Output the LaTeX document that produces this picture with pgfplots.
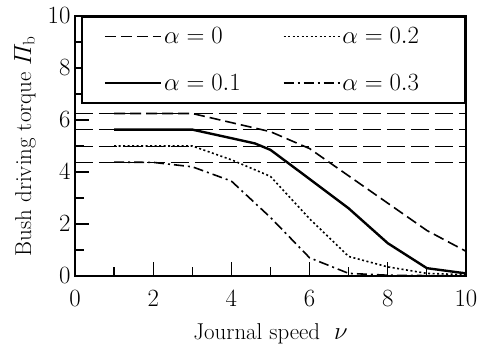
\documentclass[border=0pt]{standalone}
\usepackage{amsmath}
\usepackage{pgfplots}
\pgfplotsset{compat=1.18}
\begin{document}
\begin{tikzpicture}
\begin{axis}[
  scale only axis, width=391bp, height=260bp,
  xmin=0, xmax=10, ymin=0, ymax=10,
  xtick={0,2,...,10}, ytick={0,2,...,10},
  minor xtick={1,3,...,9}, minor ytick={1,3,...,9},
  tick align=inside, tick pos=left,
  major tick length=14bp, minor tick length=9bp,
  axis line style={line width=1.8bp},
  every tick/.style={line width=1.2bp, black},
  font=\fontsize{23}{27}\selectfont,
  xticklabel style={yshift=-11bp},
  yticklabel style={xshift=-1bp},
  xlabel={Journal speed\ \ $\nu$},
  ylabel={Bush driving torque $\varPi_{\mathrm{b}}$},
  xlabel style={font=\fontsize{23}{27}\selectfont, yshift=-10bp},
  ylabel style={font=\fontsize{23}{27}\selectfont, yshift=5bp},
  clip mode=individual,
  legend columns=2,
  legend cell align=left,
  legend style={at={(1,1)}, anchor=north east, draw=black, line width=1.8bp,
    fill=white, inner xsep=22bp, inner ysep=9bp, row sep=25bp,
    font=\fontsize{25}{29}\selectfont,
    /tikz/every even column/.append style={column sep=40bp}},
  legend image code/.code={\draw[#1] (0bp,0bp) -- (56bp,0bp);},
]
% reference lines
\addplot[forget plot, line width=0.7bp, dash pattern=on 18bp off 6bp] coordinates {(0,6.25) (10,6.25)};
\addplot[forget plot, line width=0.7bp, dash pattern=on 18bp off 6bp] coordinates {(0,5.63) (10,5.63)};
\addplot[forget plot, line width=0.7bp, dash pattern=on 18bp off 6bp] coordinates {(0,5.0) (10,5.0)};
\addplot[forget plot, line width=0.7bp, dash pattern=on 18bp off 6bp] coordinates {(0,4.38) (10,4.38)};
% alpha = 0
\addplot[black, line width=1.6bp, dash pattern=on 11bp off 5bp] coordinates {
(1,6.25) (3,6.25) (4,5.9) (5,5.55) (6,4.9) (7,3.85) (8,2.8) (9,1.75) (10,0.95)};
\addlegendentry{$\alpha = 0$}
% alpha = 0.2
\addplot[black, line width=1.6bp, dash pattern=on 2bp off 2.5bp] coordinates {
(1,5.0) (3,5.0) (4,4.47) (5,3.83) (6,2.2) (7,0.75) (8,0.35) (9,0.1) (10,0.05)};
\addlegendentry{$\alpha = 0.2$\hspace*{22bp}}
% alpha = 0.1
\addplot[black, line width=2.4bp] coordinates {
(1,5.63) (3,5.63) (4,5.3) (4.6,5.1) (5,4.85) (6,3.73) (7,2.6) (8,1.26) (9,0.3) (10,0.1)};
\addlegendentry{$\alpha = 0.1$}
% alpha = 0.3
\addplot[black, line width=1.6bp, dash pattern=on 10bp off 4bp on 2bp off 4bp] coordinates {
(1,4.38) (2,4.37) (3,4.2) (4,3.65) (5,2.25) (6,0.7) (7,0.1) (8,0.03) (10,0)};
\addlegendentry{$\alpha = 0.3$}
\path (rel axis cs:-0.1918,-0.2385) rectangle (rel axis cs:1.0435,1.0615);
\end{axis}
\end{tikzpicture}
\end{document}
